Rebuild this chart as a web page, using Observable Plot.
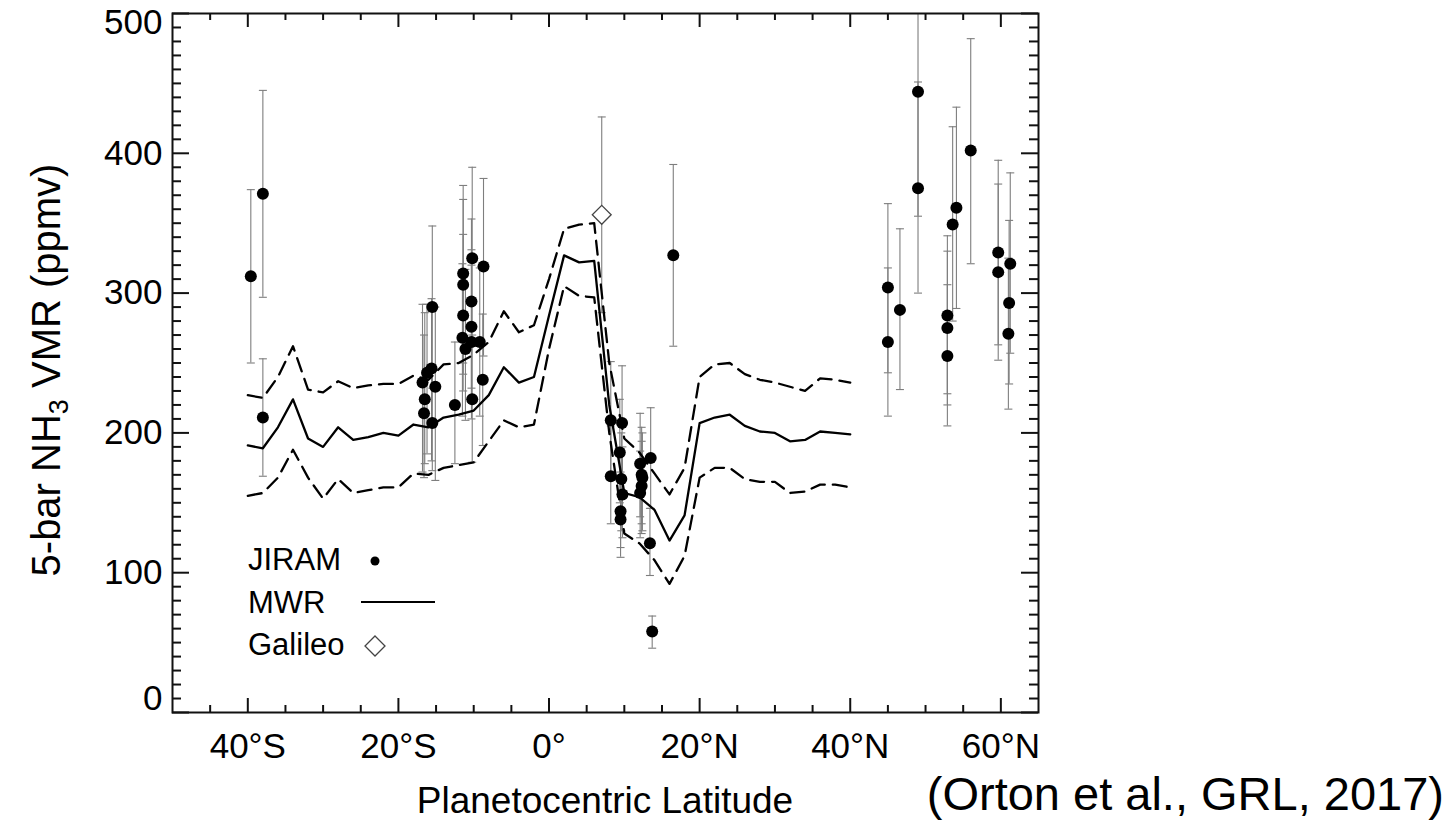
<!DOCTYPE html>
<html><head><meta charset="utf-8">
<script src="https://cdn.jsdelivr.net/npm/d3@7"></script>
<script src="https://cdn.jsdelivr.net/npm/@observablehq/plot@0.6"></script>
<style>
html,body{margin:0;padding:0;background:#fff;}
#chart{position:relative;width:1454px;height:830px;}
</style></head><body><div id="chart"></div>
<script>
// ---------- MWR profile (latitude grid, mean, upper and lower envelope) ----------
const mwrLat  = [-40,-38,-36,-34,-32,-30,-28,-26,-24,-22,-20,-18,-16,-14,-12,-10,-8,-6,-4,-2,0,2,4,6,8,10,12,14,16,18,20,22,24,26,28,30,32,34,36,38,40];
const mwrMid  = [191,189,204,224,196,190,204,195,197,200,198,206,204,211,213,216,227,247,236,240,284,327,322,323,220,157,154,145,123,141,207,211,213,205,201,200,194,195,201,200,199];
const mwrHigh = [227,225,240,262,231,229,237,232,234,235,235,241,238,249,250,256,265,287,272,277,310,346,349,350,250,196,186,171,156,175,240,249,250,242,238,236,233,230,239,238,236];
const mwrLow  = [155,157,168,188,168,153,167,157,159,161,161,171,170,175,177,179,194,209,204,206,260,305,298,297,200,128,121,109,92,112,168,175,175,167,165,165,157,158,163,163,161];

// ---------- JIRAM retrievals ----------
const jiramLat = [-39.6,-38.0,-38.0,-16.8,-16.5,-16.6,-16.2,-15.6,-15.5,-15.1,-15.5,-12.5,-11.4,-11.4,-10.2,-8.7,-10.3,-11.4,-10.3,-11.5,-11.1,-10.3,-9.2,-10.2,-8.8,
  8.2,8.2,9.7,9.4,9.6,9.75,9.5,9.5,12.1,12.3,12.4,12.3,12.1,13.5,13.4,13.7,16.5,
  45.0,45.0,46.6,49.0,49.0,53.6,54.1,52.9,52.9,52.9,56.0,59.65,59.65,61.25,61.1,61.0];
const jiramVal = [312,371,211,236,224,214,243,246,290,233,207,220,314,306,325,319,294,284,276,268,260,265,265,224,238,
  209,169,207,186,167,156,144,138,178,170,168,162,157,182,121,58,327,
  304,265,288,444,375,349,361,284,275,255,402,329,315,321,293,271];
const jiramLo  = [250,297,169,172,178,168,185,180,232,166,173,178,250,242,262,255,232,230,222,212,209,210,212,179,191,
  170,135,168,150,130,125,118,111,140,135,130,128,125,146,98,46,262,
  243,212,231,355,300,280,289,228,220,205,321,263,252,257,235,217];
const jiramHi  = [374,445,253,292,286,270,292,296,348,290,245,265,377,367,390,382,353,342,331,321,317,320,318,270,285,
  251,205,248,224,200,190,172,168,214,204,200,194,187,218,146,69,392,
  364,318,346,533,451,419,433,341,330,306,482,395,378,386,352,325];

// ---------- Galileo probe ----------
const galileoLat = [7.0];
const galileoVal = [356];
const galileoLo  = [286];
const galileoHi  = [426];

// ---------- axes ----------
const latMajor = [-40,-20,0,20,40,60];
const latLabels = ["40°S","20°S","0°","20°N","40°N","60°N"];
const latMinor = [-45,-35,-30,-25,-15,-10,-5,5,10,15,25,30,35,45,50,55];
const vmrMajor = [0,100,200,300,400,500];
const vmrLabels = ["0","100","200","300","400","500"];
const vmrMinor = [10,20,30,40,50,60,70,80,90,110,120,130,140,150,160,170,180,190,210,220,230,240,250,260,270,280,290,310,320,330,340,350,360,370,380,390,410,420,430,440,450,460,470,480,490];

const yTitle = ["5-bar NH", "3", " VMR (ppmv)"];
const xTitle = "Planetocentric Latitude";
const legendLabels = ["JIRAM", "MWR", "Galileo"];
const caption = "(Orton et al., GRL, 2017)";

// ---------- tables ----------
const mwr = mwrLat.map((lat, i) => ({lat, mid: mwrMid[i], high: mwrHigh[i], low: mwrLow[i]}));
const jiram = jiramLat.map((lat, i) => ({lat, val: jiramVal[i], lo: jiramLo[i], hi: jiramHi[i]}));
const galileo = galileoLat.map((lat, i) => ({lat, val: galileoVal[i], lo: galileoLo[i], hi: galileoHi[i]}));

const latLabelOf = new Map(latMajor.map((v, i) => [v, latLabels[i]]));
const vmrLabelOf = new Map(vmrMajor.map((v, i) => [v, vmrLabels[i]]));
const capSymbol = {draw(ctx, size) { const w = Math.sqrt(size / Math.PI); ctx.moveTo(-w, 0); ctx.lineTo(w, 0); }};
const FONT = "'Liberation Sans', Arial, Helvetica, sans-serif";
const errColor = "#7e7e7e";
const axisColor = "#111";

// layout
const W = 1454, H = 830, ML = 172, MR = 416, MT = 13, MB = 118;
const FW = W - ML - MR, FH = H - MT - MB;
const xMajLen = 14, xMinLen = 7, yMajLen = 17, yMinLen = 9;
const id = d => d;

const plot = Plot.plot({
  width: W, height: H,
  marginLeft: ML, marginRight: MR, marginTop: MT, marginBottom: MB,
  style: {fontFamily: FONT, background: "white", color: "black", overflow: "visible"},
  x: {domain: [-50, 65]},
  y: {domain: [0, 500]},
  marks: [
    // error bars
    Plot.ruleX(jiram, {x: "lat", y1: "lo", y2: "hi", stroke: errColor, strokeWidth: 1.1, clip: true}),
    Plot.dot(jiram, {x: "lat", y: "lo", symbol: capSymbol, r: 4, stroke: errColor, strokeWidth: 1.1, fill: "none", clip: true}),
    Plot.dot(jiram, {x: "lat", y: "hi", symbol: capSymbol, r: 4, stroke: errColor, strokeWidth: 1.1, fill: "none", clip: true}),
    Plot.ruleX(galileo, {x: "lat", y1: "lo", y2: "hi", stroke: errColor, strokeWidth: 1.1}),
    Plot.dot(galileo, {x: "lat", y: "lo", symbol: capSymbol, r: 4, stroke: errColor, strokeWidth: 1.1, fill: "none"}),
    Plot.dot(galileo, {x: "lat", y: "hi", symbol: capSymbol, r: 4, stroke: errColor, strokeWidth: 1.1, fill: "none"}),
    // MWR
    Plot.line(mwr, {x: "lat", y: "high", stroke: "black", strokeWidth: 2.3, strokeDasharray: "14,8"}),
    Plot.line(mwr, {x: "lat", y: "low", stroke: "black", strokeWidth: 2.3, strokeDasharray: "14,8"}),
    Plot.line(mwr, {x: "lat", y: "mid", stroke: "black", strokeWidth: 2.3}),
    // JIRAM
    Plot.dot(jiram, {x: "lat", y: "val", r: 6, fill: "black", stroke: "none"}),
    // Galileo
    Plot.dot(galileo, {x: "lat", y: "val", symbol: "diamond2", r: 8.5, fill: "white", stroke: "#444", strokeWidth: 1.3}),
    // inward ticks on all four sides
    Plot.tickX(latMinor, {x: id, insetTop: FH - xMinLen, stroke: axisColor, strokeWidth: 2}),
    Plot.tickX(latMajor, {x: id, insetTop: FH - xMajLen, stroke: axisColor, strokeWidth: 2}),
    Plot.tickX(latMinor, {x: id, insetBottom: FH - xMinLen, stroke: axisColor, strokeWidth: 2}),
    Plot.tickX(latMajor, {x: id, insetBottom: FH - xMajLen, stroke: axisColor, strokeWidth: 2}),
    Plot.tickY(vmrMinor, {y: id, insetRight: FW - yMinLen, stroke: axisColor, strokeWidth: 2}),
    Plot.tickY(vmrMajor, {y: id, insetRight: FW - yMajLen, stroke: axisColor, strokeWidth: 2}),
    Plot.tickY(vmrMinor, {y: id, insetLeft: FW - yMinLen, stroke: axisColor, strokeWidth: 2}),
    Plot.tickY(vmrMajor, {y: id, insetLeft: FW - yMajLen, stroke: axisColor, strokeWidth: 2}),
    Plot.frame({stroke: axisColor, strokeWidth: 2}),
    // tick labels
    Plot.axisX(latMajor, {anchor: "bottom", tickSize: 0, tickPadding: 21, fontSize: 35, tickFormat: d => latLabelOf.get(d), label: null}),
    Plot.axisY(vmrMajor.filter(v => v > 0 && v < 500), {anchor: "left", tickSize: 0, tickPadding: 10, fontSize: 35, tickFormat: d => vmrLabelOf.get(d), label: null}),
    Plot.axisY(vmrMajor.filter(v => v === 500), {anchor: "left", tickSize: 0, tickPadding: 10, fontSize: 35, dy: 9, tickFormat: d => vmrLabelOf.get(d), label: null}),
    Plot.axisY(vmrMajor.filter(v => v === 0), {anchor: "left", tickSize: 0, tickPadding: 10, fontSize: 35, dy: -14, tickFormat: d => vmrLabelOf.get(d), label: null})
  ]
});
document.getElementById("chart").appendChild(plot);

// ---------- titles, legend, caption ----------
const svg = d3.select(plot);
const g = svg.append("g").attr("font-family", FONT).attr("fill", "black");

const yt = g.append("text")
  .attr("transform", "translate(46,370) rotate(-90)")
  .attr("text-anchor", "middle")
  .attr("font-size", 40)
  .attr("dy", "0.35em");
yt.append("tspan").text(yTitle[0]);
yt.append("tspan").attr("font-size", 27).attr("dy", 8).text(yTitle[1]);
yt.append("tspan").attr("dy", -8).text(yTitle[2]);

g.append("text").attr("x", 605).attr("y", 813).attr("text-anchor", "middle").attr("font-size", 37).text(xTitle);
g.append("text").attr("x", 1444).attr("y", 810).attr("text-anchor", "end").attr("font-size", 47).text(caption);

// legend
const lg = g.append("g").attr("text-anchor", "start").attr("font-size", 31);
lg.append("text").attr("x", 248).attr("y", 570).text(legendLabels[0]);
lg.append("circle").attr("cx", 375).attr("cy", 561).attr("r", 4.5).attr("fill", "black");
lg.append("text").attr("x", 248).attr("y", 613).text(legendLabels[1]);
lg.append("line").attr("x1", 361).attr("x2", 435).attr("y1", 602).attr("y2", 602).attr("stroke", "black").attr("stroke-width", 2.2);
lg.append("text").attr("x", 248).attr("y", 655).text(legendLabels[2]);
lg.append("path").attr("transform", "translate(375,646)").attr("d", d3.symbol(d3.symbolDiamond2, 255)()).attr("fill", "white").attr("stroke", "#444").attr("stroke-width", 1.3);
</script></body></html>
